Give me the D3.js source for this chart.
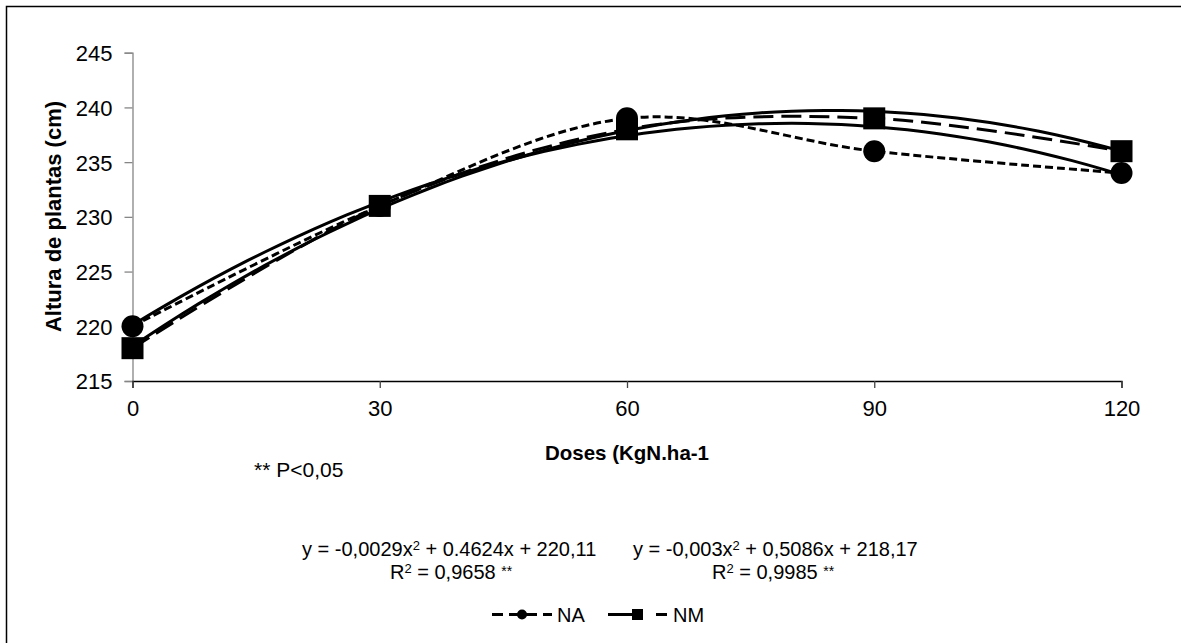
<!DOCTYPE html>
<html lang="pt">
<head>
<meta charset="utf-8">
<title>Altura de plantas</title>
<script src="https://cdn.jsdelivr.net/npm/d3@7"></script>
<style>
    body { margin: 0; background: #fff; }
    svg text { font-family: "Liberation Sans", Arial, sans-serif; fill: #000; }
</style>
</head>
<body>
<script>

// data
var doses = [0, 30, 60, 90, 120];
var na = [220, 231, 239, 236, 234];
var nm = [218, 231, 238, 239, 236];
// trendline coefficients (a, b, c) as printed on the chart
var trendNA = [-0.0029, 0.4624, 220.11];
var trendNM = [-0.003, 0.5086, 218.17];
var yTicks = [215, 220, 225, 230, 235, 240, 245];
var xTicks = [0, 30, 60, 90, 120];

var w = 1181, h = 643;

var svg = d3.select("body").append("svg")
    .attr("width", w)
    .attr("height", h);

// outer frame (runs off the right and bottom edge)
svg.append("rect")
    .attr("x", 6.5).attr("y", 6.5)
    .attr("width", 1300).attr("height", 800)
    .attr("fill", "none")
    .attr("stroke", "#000")
    .attr("stroke-width", 1.5);

var x = d3.scaleLinear().domain([0, 120]).range([132.5, 1121.5]);
var y = d3.scaleLinear().domain([215, 245]).range([381, 52.7]);

// y axis
var yAxis = svg.append("g")
    .attr("transform", "translate(" + x(0) + ",0)")
    .call(d3.axisLeft(y).tickValues(yTicks).tickSize(8).tickPadding(12).tickFormat(d3.format("d")));
yAxis.select(".domain").attr("stroke", "#868686").attr("stroke-width", 1.3);
yAxis.selectAll(".tick line").attr("stroke", "#868686").attr("stroke-width", 1.3);
yAxis.selectAll("text").style("font-size", "22px").attr("dy", "0.36em");

// x axis
var xAxis = svg.append("g")
    .attr("transform", "translate(0," + y(215) + ")")
    .call(d3.axisBottom(x).tickValues(xTicks).tickSize(7).tickPadding(12).tickFormat(d3.format("d")));
xAxis.select(".domain").attr("stroke", "#000").attr("stroke-width", 1.3);
xAxis.selectAll(".tick line").attr("stroke", "#444").attr("stroke-width", 1.3);
xAxis.selectAll("text").style("font-size", "22px").attr("dy", "0.72em");

// axis titles
svg.append("text")
    .attr("transform", "translate(61,216.5) rotate(-90)")
    .attr("text-anchor", "middle")
    .style("font-size", "22px")
    .style("font-weight", "bold")
    .text("Altura de plantas (cm)");

svg.append("text")
    .attr("x", 627).attr("y", 460)
    .attr("text-anchor", "middle")
    .style("font-size", "20.5px")
    .style("font-weight", "bold")
    .text("Doses (KgN.ha-1");

svg.append("text")
    .attr("x", 254).attr("y", 477)
    .style("font-size", "21px")
    .text("** P<0,05");

// series lines (smoothed, like the spreadsheet did)
var smooth = d3.line()
    .x(function(d, i) { return x(doses[i]); })
    .y(function(d) { return y(d); })
    .curve(d3.curveCatmullRom.alpha(0));

svg.append("path")
    .attr("d", smooth(na))
    .attr("fill", "none")
    .attr("stroke", "#000")
    .attr("stroke-width", 3)
    .attr("stroke-dasharray", "8,4");

svg.append("path")
    .attr("d", smooth(nm))
    .attr("fill", "none")
    .attr("stroke", "#000")
    .attr("stroke-width", 3)
    .attr("stroke-dasharray", "20,8");

// polynomial trendlines from the printed equations
var trendX = d3.range(0, 121, 2);
var trend = function(c) {
    return d3.line()
        .x(function(d) { return x(d); })
        .y(function(d) { return y(c[0] * d * d + c[1] * d + c[2]); })(trendX);
};
[trendNA, trendNM].forEach(function(c) {
    svg.append("path")
        .attr("d", trend(c))
        .attr("fill", "none")
        .attr("stroke", "#000")
        .attr("stroke-width", 3);
});

// markers
svg.selectAll("circle.na")
    .data(na)
    .enter()
    .append("circle")
    .attr("class", "na")
    .attr("cx", function(d, i) { return x(doses[i]); })
    .attr("cy", function(d) { return y(d); })
    .attr("r", 11)
    .attr("fill", "#000");

svg.selectAll("rect.nm")
    .data(nm)
    .enter()
    .append("rect")
    .attr("class", "nm")
    .attr("x", function(d, i) { return x(doses[i]) - 11; })
    .attr("y", function(d) { return y(d) - 11; })
    .attr("width", 22)
    .attr("height", 22)
    .attr("fill", "#000");

// equations
var eq = function(x0, y0, parts) {
    var t = svg.append("text")
        .attr("x", x0).attr("y", y0)
        .style("font-size", "20px");
    parts.forEach(function(p) {
        var s = t.append("tspan").text(p[0]);
        if (p[1] == "sup") s.style("font-size", "13px").attr("dy", -6);
        if (p[1] == "down") s.attr("dy", 6);
        if (p[1] == "star") s.style("font-size", "14px").attr("dy", -3);
    });
};
eq(302, 556, [["y = -0,0029x"], ["2", "sup"], [" + 0.4624x + 220,11", "down"]]);
eq(390, 579, [["R"], ["2", "sup"], [" = 0,9658 ", "down"], ["**", "star"]]);
eq(633, 556, [["y = -0,003x"], ["2", "sup"], [" + 0,5086x + 218,17", "down"]]);
eq(712, 579, [["R"], ["2", "sup"], [" = 0,9985 ", "down"], ["**", "star"]]);

// legend
var ly = 614.5;
svg.append("line")
    .attr("x1", 492).attr("x2", 552).attr("y1", ly).attr("y2", ly)
    .attr("stroke", "#000").attr("stroke-width", 3)
    .attr("stroke-dasharray", "11,6");
svg.append("circle")
    .attr("cx", 522).attr("cy", ly).attr("r", 5).attr("fill", "#000");
svg.append("text")
    .attr("x", 557).attr("y", 622)
    .style("font-size", "20px")
    .text("NA");

svg.append("line")
    .attr("x1", 608).attr("x2", 667).attr("y1", ly).attr("y2", ly)
    .attr("stroke", "#000").attr("stroke-width", 3)
    .attr("stroke-dasharray", "24,24");
svg.append("rect")
    .attr("x", 632).attr("y", ly - 5.5).attr("width", 11).attr("height", 11).attr("fill", "#000");
svg.append("text")
    .attr("x", 673).attr("y", 622)
    .style("font-size", "20px")
    .text("NM");

</script>
</body>
</html>
